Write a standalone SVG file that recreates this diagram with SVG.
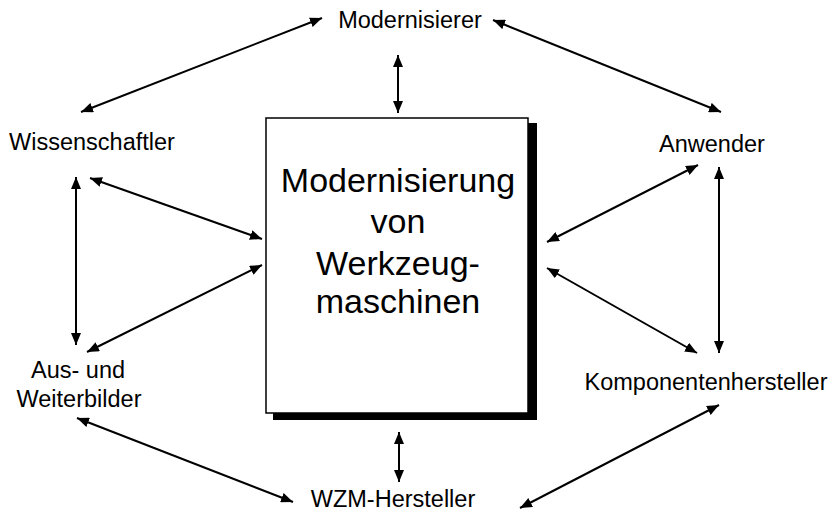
<svg xmlns="http://www.w3.org/2000/svg" width="839" height="514" viewBox="0 0 839 514">
<defs>
<marker id="ah" viewBox="0 0 12 10" refX="12" refY="5" markerWidth="12" markerHeight="10" markerUnits="userSpaceOnUse" orient="auto-start-reverse">
<path d="M0,0 L12,5 L0,10 z" fill="#000"/>
</marker>
<style>
.lbl{font-family:"Liberation Sans",Arial,sans-serif;font-size:23.5px;fill:#000;text-anchor:middle}
.big{font-family:"Liberation Sans",Arial,sans-serif;font-size:34px;fill:#000;text-anchor:middle}
.c{stroke:#000;stroke-width:2;fill:none;marker-start:url(#ah);marker-end:url(#ah)}
</style>
</defs>
<rect width="839" height="514" fill="#fff"/>
<g id="center">
<rect x="273" y="123" width="264" height="297" fill="#000"/>
<rect x="266" y="118" width="262" height="295" fill="#fff" stroke="#000" stroke-width="1.5"/>
<text class="big" x="398" y="192">Modernisierung</text>
<text class="big" x="398" y="233">von</text>
<text class="big" x="398" y="275">Werkzeug-</text>
<text class="big" x="398" y="313">maschinen</text>
</g>
<g id="modernisierer"><text class="lbl" x="410" y="28">Modernisierer</text></g>
<g id="wissenschaftler"><text class="lbl" x="92" y="150">Wissenschaftler</text></g>
<g id="anwender"><text class="lbl" x="712" y="152">Anwender</text></g>
<g id="ausweiterbilder"><text class="lbl" x="78" y="378">Aus- und</text><text class="lbl" x="79" y="407">Weiterbilder</text></g>
<g id="komponentenhersteller"><text class="lbl" x="706" y="390">Komponentenhersteller</text></g>
<g id="wzm"><text class="lbl" x="393" y="507">WZM-Hersteller</text></g>
<g id="connectors">
<line class="c" x1="322" y1="18" x2="81" y2="112"/>
<line class="c" x1="493" y1="20" x2="721" y2="112"/>
<line class="c" x1="398" y1="55" x2="398" y2="113"/>
<line class="c" x1="90" y1="178" x2="262" y2="239"/>
<line class="c" x1="76" y1="177" x2="76" y2="345"/>
<line class="c" x1="262" y1="265" x2="87" y2="352"/>
<line class="c" x1="77" y1="418" x2="293" y2="502"/>
<line class="c" x1="399" y1="432" x2="399" y2="482"/>
<line class="c" x1="698" y1="165" x2="547" y2="242"/>
<line class="c" x1="719" y1="167" x2="719" y2="353"/>
<line class="c" x1="547" y1="268" x2="697" y2="353"/>
<line class="c" x1="719" y1="405" x2="520" y2="508"/>
</g>
</svg>
